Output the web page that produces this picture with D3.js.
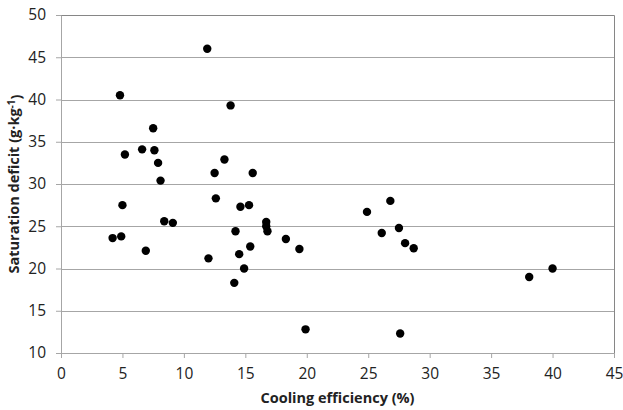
<!DOCTYPE html>
<html>
<head>
<meta charset="utf-8">
<script src="https://cdn.jsdelivr.net/npm/d3@7"></script>
<style>
  body { margin: 0; background: #fff; }
  text { font-family: "Open Sans", "Noto Sans", sans-serif; }
</style>
</head>
<body>
<div id="chart"></div>
<script>
// cooling efficiency (%) and saturation deficit (g kg-1)
var efficiency = [11.9, 4.8, 13.8, 7.5, 5.2, 6.6, 7.6, 7.9, 8.1, 13.3, 12.5, 15.6, 12.6,
    26.8, 5.0, 8.4, 9.1, 4.2, 4.9, 6.9, 12.0, 14.6, 15.3, 14.2, 14.5, 15.4, 14.9, 14.1,
    16.7, 16.7, 16.8, 18.3, 19.4, 19.9, 24.9, 26.1, 27.5, 28.0, 28.7, 38.1, 40.0, 27.6];
var deficit = [46.0, 40.5, 39.3, 36.6, 33.5, 34.1, 34.0, 32.5, 30.4, 32.9, 31.3, 31.3, 28.3,
    28.0, 27.5, 25.6, 25.4, 23.6, 23.8, 22.1, 21.2, 27.3, 27.5, 24.4, 21.7, 22.6, 20.0, 18.3,
    25.5, 25.0, 24.4, 23.5, 22.3, 12.8, 26.7, 24.2, 24.8, 23.0, 22.4, 19.0, 20.0, 12.3];
var x_ticks = [0, 5, 10, 15, 20, 25, 30, 35, 40, 45];
var y_ticks = [10, 15, 20, 25, 30, 35, 40, 45, 50];

var margin = { top: 15, left: 61, right: 9, bottom: 57 };
var width = 623 - margin.left - margin.right;
var height = 410 - margin.top - margin.bottom;

var svg = d3.select("#chart").append("svg")
    .attr("width", 623)
    .attr("height", 410);

var g = svg.append("g")
    .attr("transform", "translate(" + margin.left + "," + margin.top + ")");

var x = d3.scaleLinear().domain([0, 45]).range([0, width]);
var y = d3.scaleLinear().domain([10, 50]).range([height, 0]);

// horizontal gridlines
g.selectAll(".grid")
    .data(y_ticks.slice(1, -1)).enter()
    .append("line")
        .attr("x1", 0)
        .attr("x2", width)
        .attr("y1", function(d) { return Math.round(y(d)) + 0.5; })
        .attr("y2", function(d) { return Math.round(y(d)) + 0.5; })
        .attr("stroke", "#a6a6a6")
        .attr("stroke-width", 1);

// top and right border
g.append("path")
    .attr("d", "M0,0.5H" + (Math.round(width) + 0.5) + "V" + height)
    .attr("fill", "none")
    .attr("stroke", "#868686");

// axes
var xAxis = g.append("g")
    .attr("transform", "translate(0," + height + ")")
    .call(d3.axisBottom(x).tickValues(x_ticks).tickSizeInner(5).tickSizeOuter(0).tickPadding(10));
var yAxis = g.append("g")
    .call(d3.axisLeft(y).tickValues(y_ticks).tickSizeInner(5).tickSizeOuter(0).tickPadding(10));

[xAxis, yAxis].forEach(function(ax) {
    ax.select(".domain").attr("stroke", "#a6a6a6");
    ax.selectAll(".tick line").attr("stroke", "#a6a6a6");
    ax.selectAll("text")
        .attr("font-family", "Open Sans")
        .attr("font-size", "15.5px")
        .attr("fill", "#222");
});

// points
g.selectAll("circle")
    .data(efficiency).enter()
    .append("circle")
        .attr("cx", function(d) { return x(d); })
        .attr("cy", function(d, i) { return y(deficit[i]); })
        .attr("r", 4.2)
        .attr("fill", "#000");

// axis titles
svg.append("text")
    .attr("x", margin.left + width / 2)
    .attr("y", 403)
    .attr("text-anchor", "middle")
    .attr("font-size", "14.5px")
    .attr("font-weight", "bold")
    .attr("fill", "#222")
    .text("Cooling efficiency (%)");

var yl = svg.append("text")
    .attr("transform", "translate(19," + (margin.top + height / 2) + ") rotate(-90)")
    .attr("text-anchor", "middle")
    .attr("font-size", "14.5px")
    .attr("font-weight", "bold")
    .attr("fill", "#222");
yl.append("tspan").text("Saturation deficit (g\u00b7kg");
yl.append("tspan").attr("dy", "-0.45em").attr("font-size", "10px").text("-1");
yl.append("tspan").attr("dy", "0.45em").text(")");
</script>
</body>
</html>
